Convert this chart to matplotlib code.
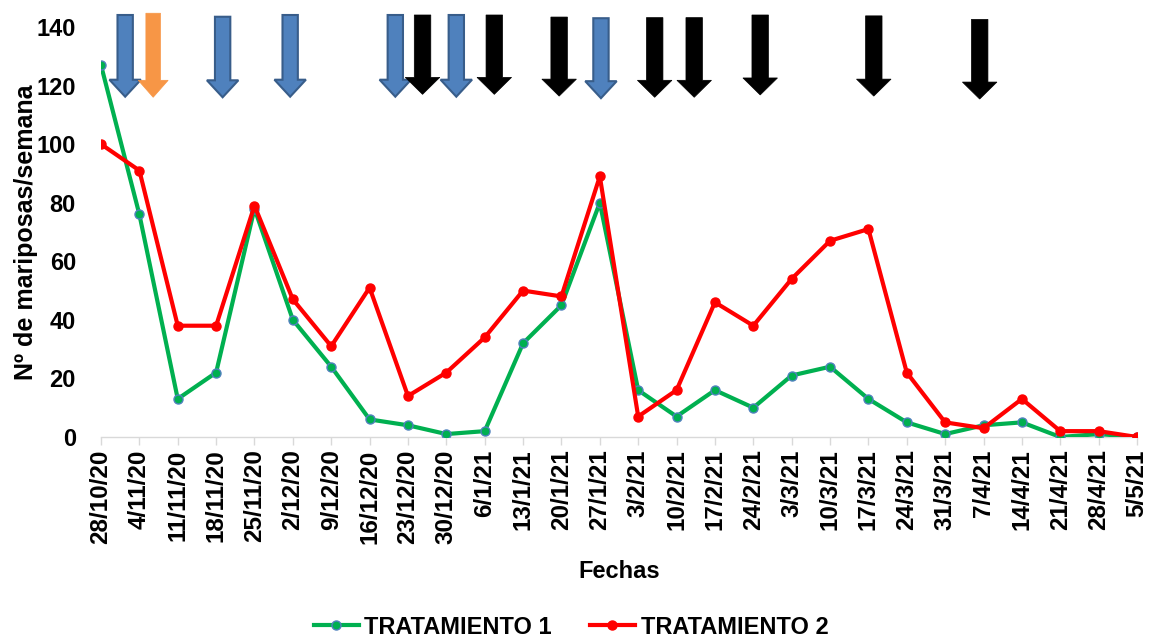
import matplotlib
matplotlib.use("Agg")
import matplotlib.pyplot as plt
from matplotlib.patches import FancyArrow

plt.rcParams['font.family'] = ['Liberation Sans', 'DejaVu Sans']
plt.rcParams['font.weight'] = 'bold'

# weekly sampling dates
fechas = ['28/10/20', '4/11/20', '11/11/20', '18/11/20', '25/11/20', '2/12/20',
          '9/12/20', '16/12/20', '23/12/20', '30/12/20', '6/1/21', '13/1/21',
          '20/1/21', '27/1/21', '3/2/21', '10/2/21', '17/2/21', '24/2/21',
          '3/3/21', '10/3/21', '17/3/21', '24/3/21', '31/3/21', '7/4/21',
          '14/4/21', '21/4/21', '28/4/21', '5/5/21']

tratamiento_1 = [127, 76, 13, 22, 78, 40, 24, 6, 4, 1, 2, 32, 45, 80, 16, 7,
                 16, 10, 21, 24, 13, 5, 1, 4, 5, 0, 1, 0]
tratamiento_2 = [100, 91, 38, 38, 79, 47, 31, 51, 14, 22, 34, 50, 48, 89, 7, 16,
                 46, 38, 54, 67, 71, 22, 5, 3, 13, 2, 2, 0]

# arrows over the chart (position in date index units, top and tip in y units)
arrow_x = [0.63, 1.36, 3.17, 4.93, 7.67, 8.38, 9.26, 10.25, 11.94, 13.03,
           14.43, 15.46, 17.18, 20.14, 22.90]
arrow_top = [144.1, 144.7, 143.5, 144.1, 144.1, 144.1, 144.1, 144.1, 143.4,
             143.0, 143.2, 143.2, 144.1, 143.8, 142.6]
arrow_tip = [116.2, 116.0, 116.0, 116.2, 116.2, 117.0, 116.2, 117.0, 116.4,
             115.7, 116.0, 116.0, 116.8, 116.4, 115.4]
arrow_kind = ['azul', 'naranja', 'azul', 'azul', 'azul', 'negro', 'azul', 'negro',
              'negro', 'azul', 'negro', 'negro', 'negro', 'negro', 'negro']

estilos = {
    'azul': dict(fc='#4F81BD', ec='#385D8A', lw=1.5, width=0.40, hw=0.82),
    'naranja': dict(fc='#F79646', ec='#F79646', lw=0.5, width=0.38, hw=0.78),
    'negro': dict(fc='black', ec='black', lw=0.5, width=0.43, hw=0.90),
}

fig = plt.figure(figsize=(11.51, 6.41), dpi=100)
ax = fig.add_axes([101 / 1151, 1 - 437 / 641, 1036 / 1151, 410 / 641])

x = list(range(len(fechas)))
ax.plot(x, tratamiento_1, color='#00B050', lw=3, marker='o', ms=6.5,
        mfc='#00B050', mec='#4F81BD', mew=1, label='TRATAMIENTO 1', zorder=3)
ax.plot(x, tratamiento_2, color='#FF0000', lw=3, marker='o', ms=6.5,
        mfc='#FF0000', mec='#FF0000', mew=1, label='TRATAMIENTO 2', zorder=4)

for xa, top, tip, kind in zip(arrow_x, arrow_top, arrow_tip, arrow_kind):
    st = estilos[kind]
    ax.add_patch(FancyArrow(xa, top, 0, tip - top, width=st['width'],
                            head_width=st['hw'], head_length=5.8,
                            length_includes_head=True, fc=st['fc'], ec=st['ec'],
                            lw=st['lw'], clip_on=False, zorder=5))

ax.set_xlim(0, len(fechas) - 1)
ax.set_ylim(0, 140)
ax.set_yticks(range(0, 141, 20))
ax.set_xticks(x)
ax.set_xticklabels(fechas, rotation=90, va='top', ha='center')

for s in ['left', 'top', 'right']:
    ax.spines[s].set_visible(False)
ax.spines['bottom'].set_color('#D9D9D9')
ax.spines['bottom'].set_linewidth(1)
ax.tick_params(axis='x', length=6, color='#D9D9D9', width=1, pad=3, labelsize=17.5)
ax.tick_params(axis='y', length=0, pad=18, labelsize=17)

fig.text(619 / 1151, 1 - 572 / 641, 'Fechas', ha='center', va='center',
         fontsize=17, fontweight='bold')
fig.text(26 / 1151, 1 - 232 / 641, 'Nº de mariposas/semana', ha='center',
         va='center', rotation=90, fontsize=18, fontweight='bold')

fig.legend(loc='center', bbox_to_anchor=(571 / 1151, 1 - 627 / 641), ncol=2,
           frameon=False, fontsize=17, handlelength=1.9, handletextpad=0.25,
           columnspacing=1.6)

fig.savefig('out.png', dpi=100)
